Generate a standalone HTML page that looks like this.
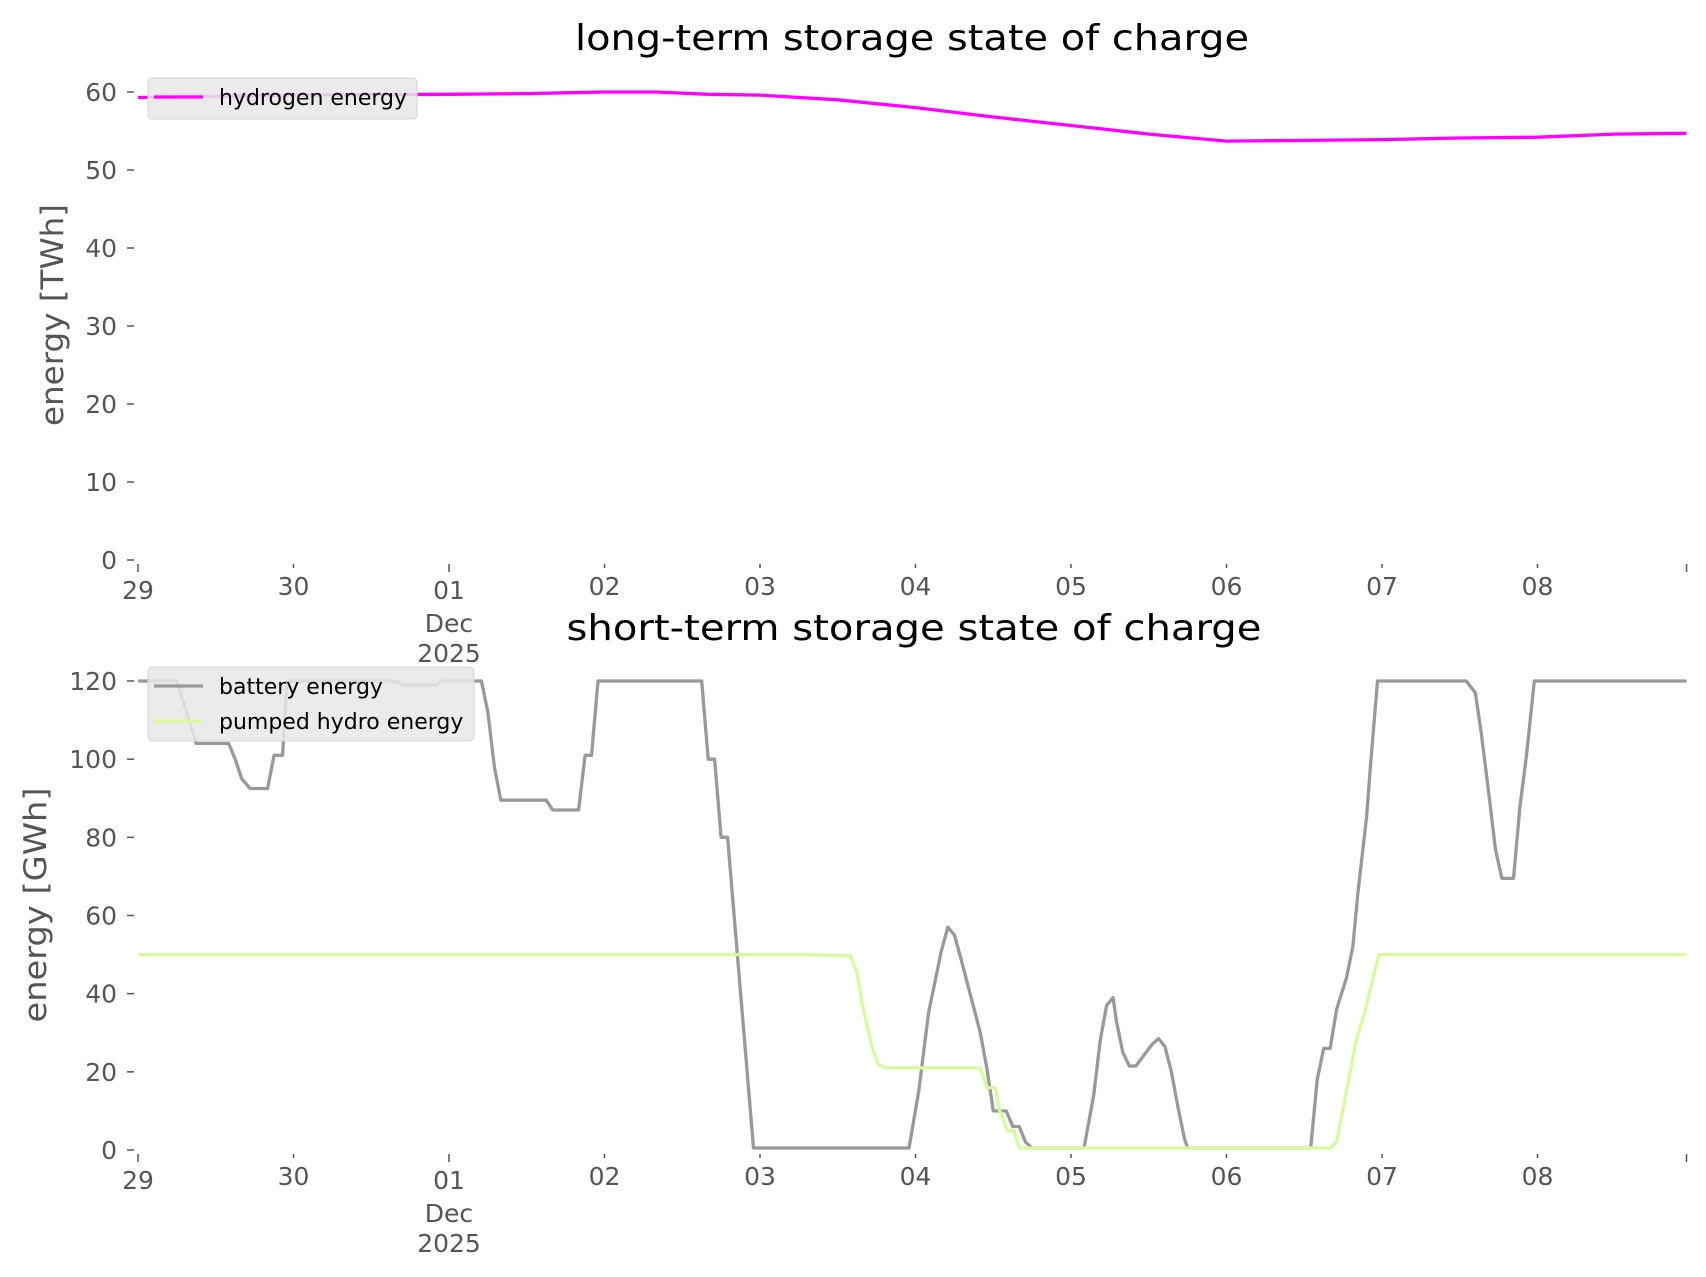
<!DOCTYPE html>
<html><head><meta charset="utf-8"><style>
html,body{margin:0;padding:0;background:#fff}
svg{display:block;font-family:"DejaVu Sans","Liberation Sans",sans-serif}
</style></head><body>
<svg id="chart" width="1706" height="1277" viewBox="0 0 1706 1277" xmlns="http://www.w3.org/2000/svg">
<text x="912" y="50" text-anchor="middle" font-size="36" textLength="674" lengthAdjust="spacingAndGlyphs">long-term storage state of charge</text>
<text x="914" y="640" text-anchor="middle" font-size="36" textLength="695" lengthAdjust="spacingAndGlyphs">short-term storage state of charge</text>
<text transform="translate(63,315) rotate(-90)" text-anchor="middle" font-size="31" fill="#555" textLength="222" lengthAdjust="spacingAndGlyphs">energy [TWh]</text>
<text transform="translate(46,905) rotate(-90)" text-anchor="middle" font-size="31" fill="#555" textLength="235" lengthAdjust="spacingAndGlyphs">energy [GWh]</text>
<g id="top"></g>
<g id="bottom"></g>
</svg>
<script>
// hourly keypoints (hours since Nov 29 00:00)
const h2Hours = [0,24,48,60,66,72,80,88,96,108,120,132,144,156,168,180,192,204,216,228,239];
const h2Values = [59.3,59.6,59.7,59.8,59.9,60.0,60.0,59.7,59.6,59.0,58.0,56.8,55.7,54.6,53.7,53.8,53.9,54.1,54.2,54.6,54.7];
const batHours = [0,6,7.5,9,14,15,16,17.3,20,21,22.3,23,39.5,41,46,47,53,54,55,56,63,64,68,69,70,71,87,88,89,90,91,95,119,120.5,122,124,125,126,127,130,131,132,134,135,136,137,138,146,147.5,148.5,149.5,150.5,151,152,153,154,156.5,157.5,158.5,159.5,160.5,161.5,162,181,182,183,184,185,186.5,187.5,188.3,189.6,190.3,191.3,205,206.4,207.3,208.5,209.5,210.5,212.3,213.3,214.3,215.5,239];
const batValues = [120,120,112,104,104,100,95,92.5,92.5,101,101,120,120,119,119,120,120,112,98,89.5,89.5,87,87,101,101,120,120,100,100,80,80,0.5,0.5,15,35,51,57,55,49,30,21,10,10,6,6,2,0.5,0.5,14,28,37,39,33,25,21.5,21.5,27,28.5,26.5,20,11,3,0.5,0.5,18,26,26,36,44,52,66,85,100,120,120,117,107,91,77,69.5,69.5,88,101,120,120];
const phHours = [0,103,110,111,111.7,113.2,114.2,115.4,130,131,132.3,133,134.2,135.2,136,184,185,186.5,188,189.3,191.5,239];
const phValues = [50,50,49.7,45,38,27,22,21,21,16,16,10,5,5,0.5,0.5,2,15,28,35,50,50];
const yTicksTop = [0,10,20,30,40,50,60];
const yTicksBot = [0,20,40,60,80,100,120];
const xTickLabels = ["29","30","01","02","03","04","05","06","07","08"];

const NS="http://www.w3.org/2000/svg";
const X0=138, DAY=155.5;
const xs = h => X0 + h*DAY/24;
function mk(tag, attrs, parent, txt){const e=document.createElementNS(NS,tag);for(const k in attrs)e.setAttribute(k,attrs[k]);if(txt!==undefined)e.textContent=txt;parent.appendChild(e);return e;}

function panel(g, y0, perUnit, yTicks, series, legend){
  const ys = v => y0 - v*perUnit;
  yTicks.forEach(t=>{
    const tk=mk('line',{x1:127,x2:134,y1:ys(t),y2:ys(t),stroke:'#555','stroke-width':1.5},g);
    
    
    const lb=mk('text',{x:117,y:ys(t)+9,'text-anchor':'end','font-size':25,fill:'#555'},g,String(t));
    
    
  });
  xTickLabels.forEach((l,i)=>{
    const x=xs(i*24); const major=(i===0||i===2);
    const tk=mk('line',{x1:x,x2:x,y1:y0+4,y2:y0+(major?12:8),stroke:'#555','stroke-width':1.5},g);
    
    
    const lb=mk('text',{x:x,y:y0+(major?39:35),'text-anchor':'middle','font-size':25,fill:'#555'},g,l);
    
    
  });
  const xe=xs(239);
  const te=mk('line',{x1:xe,x2:xe,y1:y0+4,y2:y0+12,stroke:'#555','stroke-width':1.5},g);
  
  
  const d1=mk('text',{x:xs(48),y:y0+72,'text-anchor':'middle','font-size':25,fill:'#555'},g,'Dec');
  
  
  const d2=mk('text',{x:xs(48),y:y0+102,'text-anchor':'middle','font-size':25,fill:'#555'},g,'2025');
  
  
  series.forEach(s=>{
    const pts=s.h.map((h,i)=>xs(h).toFixed(1)+','+ys(s.v[i]).toFixed(1)).join(' ');
    const pl=mk('polyline',{points:pts,fill:'none',stroke:s.c,'stroke-width':3.3,'stroke-linejoin':'round'},g);
    
    
  });
  const lg=mk('g',{},g);
  
  
  mk('rect',{x:148,y:legend.y,width:legend.w,height:legend.h,rx:4,fill:'#e8e8e8','fill-opacity':0.85,stroke:'#d6d6d6'},lg);
  series.forEach((s,i)=>{
    const cy=legend.y+19+i*35;
    mk('line',{x1:154,x2:203,y1:cy,y2:cy,stroke:s.c,'stroke-width':3.3},lg);
    const t=mk('text',{x:219,y:cy+8,'font-size':22,fill:'#000'},lg,s.label);
    
    
  });
}
panel(document.getElementById('top'),560,468/60,yTicksTop,
  [{h:h2Hours,v:h2Values,c:'#ff00ff',name:'hydrogen-line',label:'hydrogen energy'}],
  {y:78,w:269,h:41});
panel(document.getElementById('bottom'),1150,469/120,yTicksBot,
  [{h:batHours,v:batValues,c:'#999999',name:'battery-line',label:'battery energy'},
   {h:phHours,v:phValues,c:'#d9f99d',name:'pumped-hydro-line',label:'pumped hydro energy'}],
  {y:667,w:326,h:74});
</script>
</body></html>
